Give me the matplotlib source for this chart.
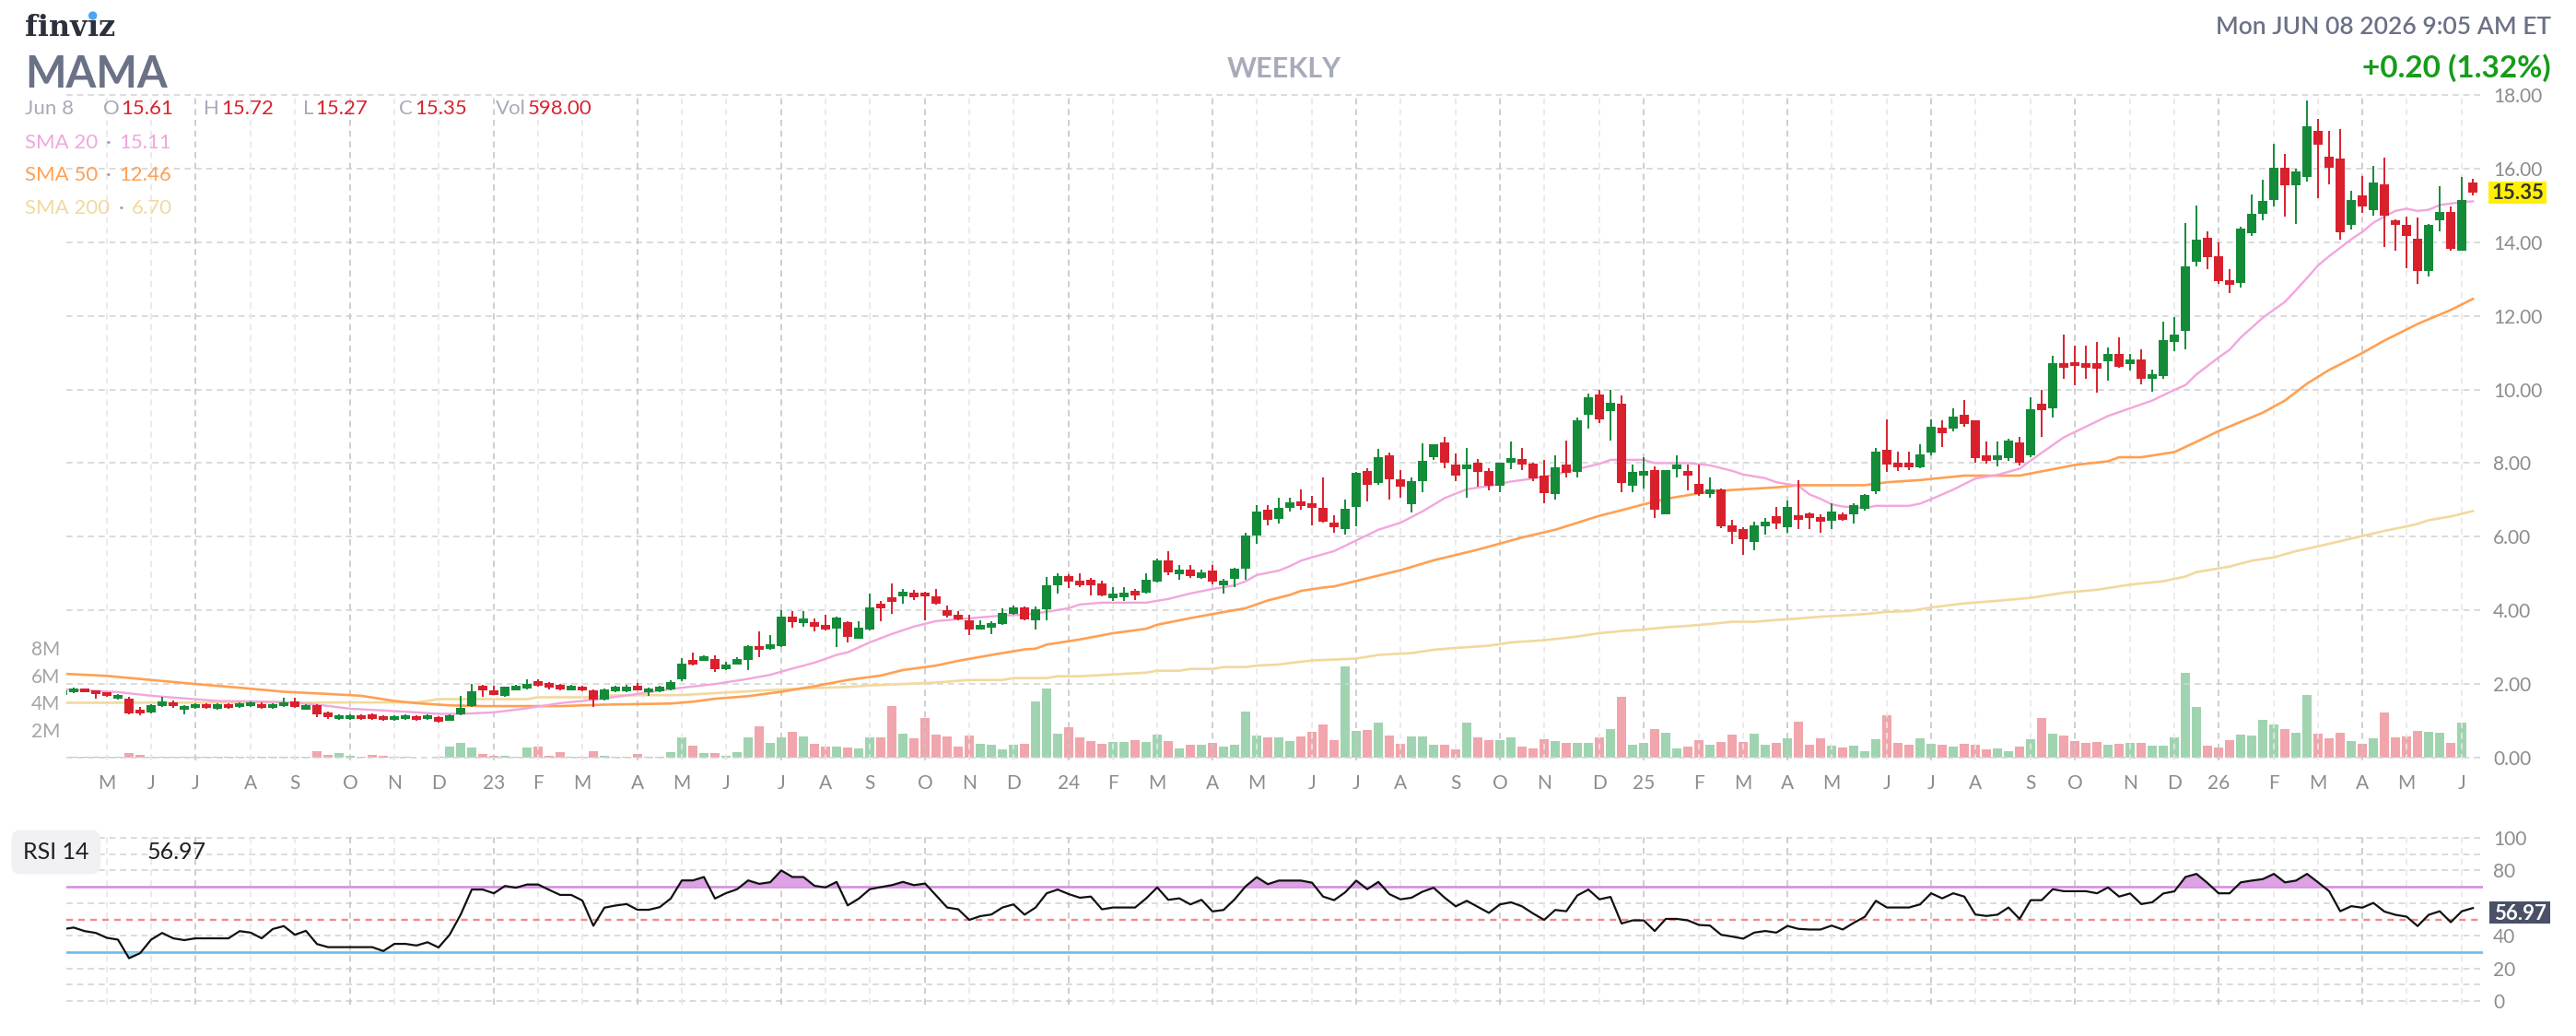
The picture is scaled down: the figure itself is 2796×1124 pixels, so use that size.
import matplotlib
matplotlib.use('Agg')
import matplotlib.pyplot as plt
import matplotlib.transforms as mtransforms
from matplotlib.patches import Rectangle, Ellipse
import numpy as np
import pandas as pd

plt.rcParams['font.family'] = ['Lato', 'DejaVu Sans']

# ── weekly bars, week of 2022-04-04 .. week of 2026-06-08 ─────────────────────
open_ = [
    1.69, 1.78, 1.88, 1.82, 1.78, 1.59, 1.61, 1.30, 1.22, 1.39,
    1.51, 1.29, 1.34, 1.46, 1.33, 1.46, 1.37, 1.39, 1.46, 1.34,
    1.39, 1.52, 1.31, 1.42, 1.22, 1.04, 1.04, 1.16, 1.17, 1.13,
    1.02, 1.04, 1.13, 1.04, 1.11, 1.01, 1.18, 1.40, 1.96, 1.83,
    1.67, 1.84, 1.88, 2.09, 2.03, 1.98, 1.84, 1.93, 1.82, 1.57,
    1.81, 1.81, 1.96, 1.77, 1.81, 1.86, 2.12, 2.65, 2.64, 2.67,
    2.41, 2.54, 2.65, 3.04, 2.96, 3.03, 3.82, 3.65, 3.68, 3.60,
    3.51, 3.68, 3.24, 3.48, 4.18, 4.35, 4.38, 4.47, 4.49, 4.37,
    4.00, 3.87, 3.72, 3.48, 3.53, 3.63, 3.90, 4.09, 3.73, 4.03,
    4.68, 4.93, 4.81, 4.82, 4.73, 4.33, 4.36, 4.52, 4.48, 4.78,
    5.37, 4.98, 5.10, 4.88, 5.08, 4.68, 4.85, 5.13, 6.03, 6.73,
    6.48, 6.79, 6.95, 6.92, 6.79, 6.38, 6.22, 6.81, 7.78, 7.46,
    8.20, 7.55, 6.89, 7.51, 8.17, 8.55, 7.96, 7.84, 8.00, 7.78,
    7.39, 8.01, 8.10, 7.98, 7.66, 7.17, 7.96, 7.77, 9.32, 9.86,
    9.41, 9.61, 7.38, 7.67, 7.80, 6.61, 7.83, 7.78, 7.43, 7.16,
    7.28, 6.31, 6.21, 5.86, 6.29, 6.56, 6.26, 6.58, 6.63, 6.53,
    6.43, 6.61, 6.61, 6.76, 7.23, 8.36, 8.00, 8.00, 7.88, 8.29,
    8.95, 8.94, 9.32, 9.17, 8.22, 8.09, 8.13, 8.57, 8.20, 9.62,
    9.50, 10.72, 10.74, 10.72, 10.72, 10.76, 10.97, 10.70, 10.82, 10.28,
    10.37, 11.28, 11.58, 13.47, 14.12, 13.62, 12.97, 12.90, 14.25, 14.77,
    15.15, 16.03, 15.55, 15.78, 17.03, 16.32, 16.28, 14.48, 15.28, 14.88,
    15.56, 14.60, 14.47, 14.09, 13.23, 14.60, 14.81, 13.78, 15.61,
]
high = [
    1.85, 1.90, 1.89, 1.83, 1.79, 1.72, 1.64, 1.38, 1.45, 1.66,
    1.55, 1.42, 1.48, 1.48, 1.47, 1.47, 1.50, 1.53, 1.49, 1.47,
    1.63, 1.63, 1.44, 1.45, 1.24, 1.18, 1.17, 1.17, 1.19, 1.15,
    1.14, 1.17, 1.14, 1.17, 1.12, 1.17, 1.68, 2.00, 1.98, 1.96,
    1.94, 1.98, 2.13, 2.12, 2.05, 2.00, 1.98, 1.95, 1.85, 1.88,
    1.95, 1.97, 2.03, 1.90, 1.95, 2.11, 2.70, 2.85, 2.78, 2.78,
    2.60, 2.72, 3.05, 3.42, 3.32, 4.00, 3.98, 3.98, 3.78, 3.88,
    3.82, 3.70, 3.70, 4.45, 4.25, 4.72, 4.58, 4.55, 4.50, 4.57,
    4.12, 3.98, 3.88, 3.72, 3.70, 4.05, 4.12, 4.10, 4.10, 4.90,
    5.00, 4.98, 5.00, 4.88, 4.80, 4.62, 4.62, 4.58, 5.00, 5.40,
    5.60, 5.22, 5.22, 5.10, 5.22, 4.85, 5.15, 6.10, 6.85, 6.85,
    7.05, 7.05, 7.28, 7.12, 7.60, 6.58, 7.00, 7.75, 7.85, 8.38,
    8.28, 7.80, 7.60, 8.53, 8.52, 8.70, 8.25, 8.40, 8.10, 7.85,
    8.02, 8.58, 8.40, 8.02, 8.08, 8.20, 8.60, 9.25, 9.88, 9.98,
    9.98, 9.85, 7.95, 8.15, 7.90, 7.80, 8.20, 7.97, 7.97, 7.60,
    7.30, 6.45, 6.27, 6.40, 6.52, 6.80, 6.98, 7.53, 6.67, 6.60,
    6.90, 6.65, 6.90, 7.15, 8.40, 9.20, 8.30, 8.30, 8.50, 9.20,
    9.17, 9.50, 9.72, 9.17, 8.58, 8.58, 8.65, 8.72, 9.80, 9.98,
    10.92, 11.50, 11.20, 11.20, 11.30, 11.13, 11.42, 10.97, 11.08, 10.55,
    11.85, 11.97, 14.52, 15.00, 14.30, 14.00, 13.26, 14.43, 15.30, 15.70,
    16.68, 16.40, 16.00, 17.86, 17.36, 17.03, 17.08, 15.40, 15.80, 16.08,
    16.30, 14.62, 14.70, 14.66, 14.50, 15.53, 14.98, 15.77, 15.72,
]
low = [
    1.65, 1.76, 1.77, 1.61, 1.64, 1.57, 1.17, 1.14, 1.20, 1.37,
    1.36, 1.17, 1.32, 1.33, 1.31, 1.33, 1.35, 1.37, 1.32, 1.33,
    1.37, 1.36, 1.29, 1.10, 1.06, 1.02, 1.02, 1.03, 1.03, 1.01,
    1.00, 1.02, 1.01, 1.03, 0.94, 0.99, 1.15, 1.38, 1.64, 1.69,
    1.65, 1.82, 1.86, 1.94, 1.85, 1.84, 1.82, 1.80, 1.37, 1.55,
    1.79, 1.79, 1.82, 1.68, 1.79, 1.84, 2.08, 2.50, 2.62, 2.32,
    2.39, 2.52, 2.38, 2.72, 2.94, 3.00, 3.53, 3.55, 3.42, 3.45,
    3.00, 3.12, 3.22, 3.45, 3.70, 3.90, 4.18, 4.28, 3.73, 4.15,
    3.80, 3.72, 3.32, 3.47, 3.35, 3.60, 3.88, 3.72, 3.48, 3.73,
    4.45, 4.60, 4.63, 4.40, 4.37, 4.25, 4.25, 4.28, 4.46, 4.76,
    4.95, 4.82, 4.88, 4.85, 4.70, 4.45, 4.62, 4.82, 5.80, 6.30,
    6.35, 6.68, 6.73, 6.30, 6.38, 6.10, 6.07, 6.28, 6.95, 7.42,
    7.00, 7.05, 6.67, 7.20, 8.08, 7.85, 7.50, 7.07, 7.35, 7.27,
    7.20, 7.84, 7.80, 7.50, 6.90, 7.00, 7.60, 7.60, 8.93, 9.10,
    8.60, 7.22, 7.22, 7.32, 6.50, 6.60, 7.60, 7.25, 7.10, 7.06,
    6.24, 5.80, 5.52, 5.64, 6.06, 6.20, 6.10, 6.20, 6.20, 6.10,
    6.20, 6.43, 6.37, 6.70, 7.15, 7.76, 7.78, 7.80, 7.85, 8.20,
    8.43, 8.87, 9.00, 8.02, 7.98, 7.90, 8.07, 7.94, 8.15, 8.70,
    9.25, 10.30, 10.12, 10.28, 9.92, 10.23, 10.60, 10.52, 10.13, 9.93,
    10.30, 11.05, 11.08, 13.35, 13.27, 12.88, 12.63, 12.77, 14.18, 14.60,
    14.98, 14.70, 14.50, 15.64, 15.20, 15.58, 14.07, 14.35, 14.80, 14.73,
    13.88, 13.77, 13.30, 12.88, 13.08, 14.30, 13.78, 13.78, 15.27,
]
close = [
    1.83, 1.88, 1.78, 1.72, 1.67, 1.71, 1.19, 1.19, 1.43, 1.53,
    1.39, 1.40, 1.46, 1.34, 1.44, 1.34, 1.48, 1.51, 1.34, 1.46,
    1.51, 1.38, 1.42, 1.17, 1.10, 1.16, 1.16, 1.04, 1.04, 1.02,
    1.13, 1.16, 1.02, 1.16, 0.98, 1.14, 1.36, 1.81, 1.82, 1.71,
    1.92, 1.96, 2.01, 1.96, 1.90, 1.86, 1.96, 1.82, 1.57, 1.86,
    1.93, 1.93, 1.84, 1.88, 1.93, 2.06, 2.55, 2.52, 2.75, 2.40,
    2.54, 2.67, 3.02, 2.93, 3.08, 3.82, 3.68, 3.78, 3.56, 3.48,
    3.80, 3.29, 3.52, 4.08, 4.05, 4.23, 4.50, 4.36, 4.38, 4.18,
    3.86, 3.75, 3.48, 3.60, 3.65, 3.92, 4.07, 3.76, 4.03, 4.68,
    4.93, 4.79, 4.68, 4.68, 4.40, 4.45, 4.48, 4.40, 4.83, 5.36,
    5.04, 5.10, 4.92, 5.03, 4.79, 4.81, 5.13, 6.03, 6.68, 6.46,
    6.79, 6.93, 6.83, 6.79, 6.42, 6.27, 6.76, 7.73, 7.42, 8.16,
    7.57, 7.36, 7.51, 8.06, 8.50, 8.00, 7.67, 7.96, 7.77, 7.39,
    8.00, 8.13, 7.97, 7.59, 7.19, 7.88, 7.73, 9.17, 9.78, 9.18,
    9.63, 7.46, 7.75, 7.78, 6.74, 7.80, 7.96, 7.67, 7.16, 7.28,
    6.29, 6.13, 5.94, 6.31, 6.41, 6.36, 6.81, 6.46, 6.51, 6.41,
    6.68, 6.47, 6.86, 7.13, 8.30, 7.97, 7.88, 7.88, 8.23, 9.00,
    8.82, 9.27, 9.06, 8.13, 8.06, 8.22, 8.62, 8.00, 9.47, 9.43,
    10.72, 10.60, 10.63, 10.60, 10.57, 10.97, 10.62, 10.82, 10.30, 10.41,
    11.34, 11.49, 13.34, 14.08, 13.60, 12.95, 12.85, 14.36, 14.77, 15.12,
    16.03, 15.55, 15.93, 17.16, 16.65, 16.01, 14.26, 15.14, 14.96, 15.62,
    14.72, 14.48, 14.18, 13.23, 14.47, 14.81, 13.82, 15.15, 15.35,
]
volume_m = [
    0.05, 0.05, 0.06, 0.06, 0.05, 0.06, 0.36, 0.18, 0.07, 0.07,
    0.07, 0.10, 0.04, 0.04, 0.05, 0.04, 0.06, 0.10, 0.06, 0.05,
    0.06, 0.06, 0.06, 0.45, 0.18, 0.36, 0.16, 0.06, 0.22, 0.11,
    0.06, 0.08, 0.02, 0.03, 0.08, 0.83, 1.10, 0.76, 0.29, 0.16,
    0.16, 0.08, 0.76, 0.83, 0.16, 0.38, 0.06, 0.08, 0.49, 0.16,
    0.08, 0.08, 0.29, 0.08, 0.06, 0.43, 1.45, 0.85, 0.34, 0.34,
    0.13, 0.40, 1.48, 2.28, 1.07, 1.48, 1.88, 1.54, 1.00, 0.80,
    0.80, 0.74, 0.67, 1.48, 1.48, 3.76, 1.74, 1.41, 2.89, 1.68,
    1.54, 0.80, 1.61, 1.00, 0.94, 0.60, 0.94, 1.00, 4.09, 5.03,
    1.74, 2.21, 1.48, 1.21, 1.00, 1.14, 1.14, 1.28, 1.14, 1.68,
    1.21, 0.67, 0.94, 0.94, 1.07, 0.80, 0.94, 3.36, 1.61, 1.48,
    1.48, 1.21, 1.52, 1.85, 2.40, 1.30, 6.67, 1.97, 2.04, 2.57,
    1.63, 1.03, 1.57, 1.57, 0.96, 0.96, 0.63, 2.57, 1.50, 1.30,
    1.30, 1.50, 0.83, 0.69, 1.36, 1.23, 1.10, 1.10, 1.10, 1.50,
    2.10, 4.45, 0.96, 1.10, 2.10, 1.83, 0.69, 0.83, 1.30, 0.96,
    1.16, 1.70, 1.16, 1.77, 0.96, 1.10, 1.43, 2.64, 0.96, 1.43,
    0.89, 0.76, 0.89, 0.49, 1.36, 3.11, 1.08, 0.95, 1.42, 1.02,
    0.92, 0.80, 1.00, 0.94, 0.58, 0.65, 0.47, 0.80, 1.34, 2.89,
    1.74, 1.61, 1.21, 1.07, 1.14, 0.94, 1.00, 1.07, 1.07, 0.87,
    0.87, 1.48, 6.17, 3.69, 0.87, 0.74, 1.28, 1.68, 1.61, 2.75,
    2.42, 2.08, 1.81, 4.56, 1.74, 1.41, 1.81, 1.21, 1.00, 1.41,
    3.29, 1.48, 1.54, 1.95, 1.88, 1.81, 1.07, 2.55, 0.0006,
]
rsi14 = [
    44.0, 45.0, 42.8, 41.7, 38.7, 37.6, 26.2, 29.3, 37.6, 41.7,
    38.4, 37.3, 38.4, 38.4, 38.4, 38.4, 42.8, 41.9, 38.4, 44.1,
    45.9, 40.6, 43.0, 34.9, 33.0, 33.0, 33.0, 33.0, 33.0, 30.6,
    35.0, 35.0, 34.0, 36.0, 32.8, 40.6, 53.0, 68.3, 68.3, 66.0,
    70.5, 69.4, 71.4, 71.4, 68.1, 65.0, 65.0, 61.6, 46.1, 57.2,
    58.5, 59.4, 55.9, 55.9, 57.5, 62.8, 73.9, 73.9, 76.0, 62.8,
    66.1, 68.5, 73.9, 71.8, 72.8, 80.0, 76.0, 76.0, 70.6, 69.6,
    73.0, 58.6, 62.7, 68.5, 69.8, 71.0, 73.0, 71.0, 72.0, 64.7,
    57.3, 56.2, 49.7, 52.0, 53.0, 57.3, 59.2, 52.9, 57.3, 66.0,
    68.3, 65.5, 63.3, 64.0, 56.2, 57.3, 57.3, 57.3, 62.9, 69.6,
    62.0, 62.9, 59.2, 62.0, 54.9, 55.8, 62.3, 70.3, 75.9, 71.6,
    73.8, 73.8, 73.8, 72.5, 64.0, 61.8, 66.6, 73.8, 68.5, 73.0,
    65.5, 62.3, 63.3, 67.0, 69.4, 63.3, 58.0, 61.4, 57.7, 54.0,
    59.2, 60.5, 58.0, 53.6, 49.7, 55.8, 55.0, 64.7, 68.3, 62.3,
    63.8, 47.5, 49.4, 49.4, 42.9, 50.3, 50.3, 49.4, 46.6, 46.2,
    40.6, 39.5, 38.2, 41.9, 42.9, 41.9, 46.0, 44.2, 43.8, 43.8,
    46.2, 43.8, 47.9, 51.6, 61.4, 57.3, 57.3, 57.3, 59.2, 66.0,
    62.9, 66.0, 64.0, 53.0, 52.1, 52.9, 57.3, 50.3, 61.8, 61.8,
    68.5, 67.3, 67.3, 67.3, 66.0, 69.6, 64.0, 65.9, 59.4, 60.5,
    65.9, 67.2, 76.0, 77.9, 72.3, 66.0, 66.0, 72.7, 73.8, 74.7,
    77.9, 72.7, 73.8, 77.9, 72.7, 67.3, 55.0, 58.1, 57.2, 60.1,
    54.8, 52.8, 51.7, 45.9, 52.8, 55.0, 48.3, 55.0, 56.97,
]

# moving averages (bar index, value)
sma20_i = [0, 5, 8, 11, 14, 17, 20, 23, 26, 29, 32, 34, 36, 39, 42, 45, 48, 51, 54, 56,
           59, 62, 64, 66, 68, 70, 71, 73, 75, 77, 79, 81, 83, 85, 87, 89, 91, 92, 94, 98,
           100, 102, 104, 106, 107, 108, 110, 111, 112, 113, 115, 117, 119, 121, 123, 125,
           127, 129, 131, 133, 135, 137, 139, 140, 143, 144, 147, 149, 151, 152, 154, 155,
           157, 158, 159, 160, 161, 163, 164, 167, 168, 169, 171, 173, 175, 177, 179, 181,
           183, 185, 187, 189, 191, 192, 193, 195, 196, 197, 199, 201, 202, 203, 204, 205,
           207, 208, 209, 210, 211, 212, 213, 214, 215, 216, 217, 218]
sma20_v = [1.86, 1.78, 1.68, 1.61, 1.54, 1.53, 1.51, 1.44, 1.33, 1.28, 1.23, 1.19, 1.19,
           1.23, 1.34, 1.48, 1.57, 1.69, 1.82, 1.90, 2.00, 2.14, 2.25, 2.42, 2.58, 2.79,
           2.86, 3.13, 3.36, 3.56, 3.71, 3.76, 3.81, 3.86, 3.88, 3.96, 4.06, 4.16, 4.21,
           4.21, 4.31, 4.46, 4.58, 4.68, 4.79, 4.96, 5.08, 5.20, 5.35, 5.44, 5.61, 5.90,
           6.19, 6.38, 6.69, 7.05, 7.29, 7.38, 7.50, 7.58, 7.69, 7.84, 7.98, 8.09, 8.09,
           8.00, 8.00, 7.94, 7.79, 7.69, 7.59, 7.48, 7.38, 7.15, 7.03, 6.88, 6.82, 6.78,
           6.84, 6.84, 6.90, 7.02, 7.28, 7.58, 7.68, 7.85, 8.28, 8.70, 8.99, 9.28, 9.49,
           9.70, 9.99, 10.12, 10.41, 10.87, 11.08, 11.41, 11.95, 12.38, 12.70, 13.03,
           13.37, 13.62, 14.08, 14.28, 14.53, 14.70, 14.85, 14.91, 14.85, 14.88, 15.01,
           15.05, 15.09, 15.11]
sma50_i = [0, 4, 8, 12, 16, 20, 24, 27, 30, 32, 35, 38, 45, 49, 55, 57, 59, 62, 65, 68,
           71, 74, 76, 79, 81, 84, 87, 88, 89, 92, 95, 98, 99, 102, 104, 107, 109, 111,
           112, 114, 115, 117, 121, 124, 128, 132, 135, 139, 141, 143, 145, 147, 149, 152,
           155, 157, 163, 165, 168, 172, 177, 182, 185, 186, 188, 191, 193, 195, 197, 199,
           201, 203, 205, 208, 210, 213, 216, 218]
sma50_v = [2.28, 2.22, 2.11, 2.00, 1.90, 1.79, 1.73, 1.68, 1.54, 1.48, 1.42, 1.40, 1.40,
           1.44, 1.47, 1.52, 1.60, 1.67, 1.79, 1.94, 2.11, 2.23, 2.38, 2.50, 2.63, 2.79,
           2.94, 2.96, 3.07, 3.21, 3.38, 3.50, 3.61, 3.79, 3.90, 4.06, 4.27, 4.42, 4.53,
           4.62, 4.65, 4.80, 5.09, 5.36, 5.65, 5.98, 6.19, 6.57, 6.72, 6.88, 7.03, 7.13,
           7.23, 7.29, 7.34, 7.40, 7.40, 7.48, 7.54, 7.66, 7.66, 7.95, 8.05, 8.16, 8.16,
           8.30, 8.58, 8.87, 9.12, 9.37, 9.70, 10.16, 10.53, 10.99, 11.33, 11.78, 12.16,
           12.46]
sma200_i = [0, 32, 33, 34, 42, 43, 48, 49, 56, 63, 67, 71, 73, 76, 79, 82, 85, 86, 89, 90,
            92, 95, 98, 99, 101, 102, 104, 105, 107, 108, 110, 111, 113, 117, 119, 122, 124,
            126, 129, 131, 134, 137, 139, 141, 143, 145, 147, 149, 151, 153, 155, 157, 159,
            161, 163, 165, 167, 169, 172, 175, 178, 181, 184, 187, 190, 192, 193, 196, 198,
            200, 202, 204, 207, 210, 212, 213, 214, 216, 218]
sma200_v = [1.49, 1.50, 1.54, 1.59, 1.59, 1.64, 1.64, 1.69, 1.70, 1.82, 1.88, 1.92, 1.96,
            2.00, 2.04, 2.11, 2.11, 2.16, 2.16, 2.21, 2.21, 2.26, 2.31, 2.36, 2.36, 2.41,
            2.41, 2.46, 2.46, 2.50, 2.53, 2.57, 2.64, 2.69, 2.79, 2.84, 2.93, 2.98, 3.04,
            3.13, 3.19, 3.29, 3.38, 3.44, 3.48, 3.54, 3.58, 3.63, 3.69, 3.69, 3.74, 3.78,
            3.83, 3.86, 3.90, 3.96, 3.98, 4.08, 4.19, 4.26, 4.34, 4.48, 4.56, 4.70, 4.79,
            4.92, 5.04, 5.19, 5.35, 5.44, 5.61, 5.74, 5.95, 6.16, 6.28, 6.35, 6.45, 6.55,
            6.70]

price_ticks = list(range(0, 19, 2))
vol_ticks = [2, 4, 6, 8]
rsi_ticks = [0, 20, 40, 80, 100]     # the 60 label sits under the value tag

# ── colours ───────────────────────────────────────────────────────────────────
GREEN, RED = '#138b39', '#d9202d'
VGREEN, VRED = '#a0d4b0', '#f0a6ac'
C_SMA20, C_SMA50, C_SMA200 = '#f2a6dc', '#ffa053', '#f1d99e'
GRID_H, GRID_Q, GRID_M = '#d4d4d4', '#c6c6c6', '#e7e7e7'

o, h, l, c = map(np.array, (open_, high, low, close))
vol = np.array(volume_m)
rsi = np.array(rsi14)
x = np.arange(len(c))
up = c >= o

# month marks: a new month starts on the first week whose Friday falls in it
dates = pd.date_range('2022-04-04', periods=len(c), freq='W-MON')
fridays = dates + pd.Timedelta(days=4)
month_pos, month_lab, month_major = [], [], []
for i in range(1, len(fridays)):
    if fridays[i].month != fridays[i - 1].month:
        m = fridays[i].month
        month_pos.append(i)
        month_lab.append(f'{fridays[i].year % 100:02d}' if m == 1 else 'JFMAMJJASOND'[m - 1])
        month_major.append(m in (1, 4, 7, 10))

# ── figure ────────────────────────────────────────────────────────────────────
W, H = 2796, 1124
fig = plt.figure(figsize=(W / 100, H / 100), dpi=100)
fig.patch.set_facecolor('white')


def fx(px):
    return px / W


def fy(py):
    return 1 - py / H


L, R = 72, 2695
P_TOP, P_BOT = 102, 825
R_TOP, R_BOT = 905, 1090
ax_v = fig.add_axes([fx(L), fy(P_BOT), (R - L) / W, (P_BOT - P_TOP) / H])
ax = fig.add_axes([fx(L), fy(P_BOT), (R - L) / W, (P_BOT - P_TOP) / H], sharex=ax_v)
ax.patch.set_visible(False)
ax_r = fig.add_axes([fx(L), fy(R_BOT), (R - L) / W, (R_BOT - R_TOP) / H], sharex=ax_v)

for a in (ax_v, ax, ax_r):
    for s in a.spines.values():
        s.set_visible(False)
    a.tick_params(axis='x', bottom=False, labelbottom=False)

ax_v.set_xlim(0.33, 218.91)
ax.set_ylim(-0.075, 18.025)
ax_v.set_ylim(-0.2, 48.3)
ax_r.set_ylim(-2.26, 102.26)

# grids
for v in price_ticks:
    ax.axhline(v, color=GRID_H, lw=1.2, ls=(0, (4, 3)), zorder=0)
for v in [0, 10, 20, 40, 60, 80, 90, 100]:
    ax_r.axhline(v, color=GRID_H, lw=1.2, ls=(0, (4, 3)), zorder=0)
for p, major in zip(month_pos, month_major):
    for a in (ax, ax_r):
        a.axvline(p, color=GRID_Q if major else GRID_M, lw=1.2, ls=(0, (4, 3)), zorder=0)

# volume
ax_v.bar(x, vol, width=0.8, color=np.where(up, VGREEN, VRED), zorder=1)
ax_v.set_yticks(vol_ticks)
ax_v.set_yticklabels([f'{v}M' for v in vol_ticks])
ax_v.tick_params(axis='y', length=0, pad=5, labelsize=15, labelcolor='#a4a4a4')

# moving averages
ax.plot(sma200_i, sma200_v, color=C_SMA200, lw=1.9, zorder=2)
ax.plot(sma50_i, sma50_v, color=C_SMA50, lw=1.9, zorder=2)
ax.plot(sma20_i, sma20_v, color=C_SMA20, lw=1.7, zorder=2)

# candles
cols = np.where(up, GREEN, RED)
ax.vlines(x, l, h, colors=cols, lw=1.4, zorder=3)
ax.bar(x, np.maximum(np.abs(c - o), 0.04), bottom=np.minimum(o, c), width=0.78,
       color=cols, zorder=4)

ax.yaxis.tick_right()
ax.set_yticks(price_ticks)
ax.set_yticklabels([f'{v:.2f}' for v in price_ticks])
ax.tick_params(axis='y', length=0, pad=8, labelsize=15, labelcolor='#8c8c8c')

# month labels
trans = mtransforms.blended_transform_factory(ax.transData, fig.transFigure)
for p, lab in zip(month_pos, month_lab):
    ax.text(p, fy(856), lab, transform=trans, ha='center', va='baseline',
            fontsize=15, color='#8c8c8c')

# RSI panel
ax_r.axhline(70, color='#d68ee0', lw=1.9, zorder=1)
ax_r.axhline(50, color='#f28a8a', lw=1.7, ls=(0, (3, 2.5)), zorder=1)
ax_r.axhline(30, color='#6bbde9', lw=1.9, zorder=1)
ax_r.fill_between(x, rsi, 70, where=rsi >= 70, interpolate=True, color='#dca2e4', lw=0, zorder=2)
ax_r.fill_between(x, rsi, 30, where=rsi <= 30, interpolate=True, color='#a6d7f2', lw=0, zorder=2)
ax_r.plot(x, rsi, color='#111111', lw=1.6, zorder=3)
ax_r.yaxis.tick_right()
ax_r.set_yticks(rsi_ticks)
ax_r.set_yticklabels([str(v) for v in rsi_ticks])
ax_r.tick_params(axis='y', length=0, pad=8, labelsize=15, labelcolor='#8c8c8c')

fig.text(fx(25), fy(932), 'RSI 14', fontsize=18, color='#1f1f24', va='baseline',
         bbox=dict(boxstyle='round,pad=0.5,rounding_size=0.4', fc='#f1f1f4', ec='none'))
fig.text(fx(160), fy(932), '56.97', fontsize=18, color='#1f1f24', va='baseline')


def tag(x0, x1, y0, y1, text, fc, tc):
    fig.add_artist(Rectangle((fx(x0), fy(y1)), (x1 - x0) / W, (y1 - y0) / H,
                             transform=fig.transFigure, fc=fc, ec='none', zorder=5))
    fig.text(fx((x0 + x1) / 2), fy((y0 + y1) / 2 + 7.5), text, ha='center', va='baseline',
             fontsize=16, fontweight='bold', color=tc, zorder=6)


tag(2701, 2764, 197, 221, '15.35', '#fff000', '#333333')
tag(2702, 2768, 978, 1002, '56.97', '#4a5066', 'white')

# ── header ────────────────────────────────────────────────────────────────────
logo_kw = dict(family='DejaVu Serif', fontweight='bold', fontsize=23, color='#2c303b', va='baseline')
t1 = fig.text(fx(27), fy(39), 'finv', **logo_kw)
fig.canvas.draw()
bb1 = t1.get_window_extent()
t2 = fig.text(bb1.x1 / W, fy(39), '\u0131', **logo_kw)
fig.canvas.draw()
bb2 = t2.get_window_extent()
fig.text(bb2.x1 / W, fy(39), 'z', **logo_kw)
fig.add_artist(Ellipse((((bb2.x0 + bb2.x1) / 2) / W, fy(17)), 8 / W, 8 / H,
                       transform=fig.transFigure, color='#4ba6f2'))

fig.text(fx(27), fy(95), 'MAMA', fontsize=34, fontweight='bold', color='#6b7186', va='baseline')
fig.text(fx(1394), fy(84), 'WEEKLY', fontsize=22, fontweight='bold', color='#a7abb9',
         ha='center', va='baseline')
fig.text(fx(2769), fy(37), 'Mon JUN 08 2026 9:05 AM ET', fontsize=19, fontweight='semibold',
         color='#6b7186', ha='right', va='baseline')
fig.text(fx(2769), fy(84), '+0.20 (1.32%)', fontsize=24, fontweight='bold',
         color='#169c1a', ha='right', va='baseline')

GRAY_T, RED_T = '#a7abb9', '#d9232e'
row = [(27, 'Jun 8', GRAY_T), (112, 'O', GRAY_T), (131, '15.61', RED_T),
       (221, 'H', GRAY_T), (240, '15.72', RED_T), (329, 'L', GRAY_T), (342, '15.27', RED_T),
       (433, 'C', GRAY_T), (450, '15.35', RED_T), (538, 'Vol', GRAY_T), (573, '598.00', RED_T)]
for px, s, col in row:
    fig.text(fx(px), fy(124), s, fontsize=16, color=col, va='baseline')

sma_rows = [(161, 'SMA 20', '15.11', C_SMA20, 115, 129),
            (196, 'SMA 50', '12.46', C_SMA50, 115, 129),
            (232, 'SMA 200', '6.70', C_SMA200, 129, 143)]
for py, lab, val, col, dx, vx in sma_rows:
    fig.text(fx(27), fy(py), lab, fontsize=16, color=col, va='baseline')
    fig.text(fx(dx), fy(py), '\u00b7', fontsize=16, color='#9a9fb0', va='baseline')
    fig.text(fx(vx), fy(py), val, fontsize=16, color=col, va='baseline')

fig.savefig('out.png', dpi=100, facecolor='white')
